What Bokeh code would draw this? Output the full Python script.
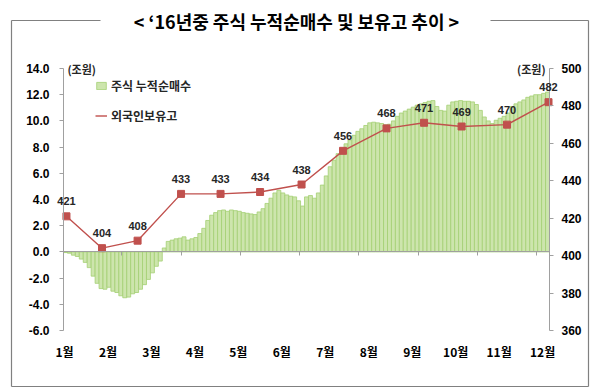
import numpy as np
from bokeh.plotting import figure
from bokeh.models import (Range1d, LinearAxis, FixedTicker, NumeralTickFormatter,
                          Label, LabelSet, ColumnDataSource)
from bokeh.core.properties import value
from bokeh.embed import file_html
from bokeh.resources import INLINE

# cumulative net purchase of stocks by foreigners (trillion won), one bar per two trading days
net_buy = [-0.05, -0.1, -0.25, -0.35, -0.55, -0.8, -1.2, -1.85, -2.4, -2.8,
           -2.85, -2.7, -3.0, -3.1, -3.35, -3.5, -3.45, -3.2, -3.1, -2.85,
           -2.5, -2.1, -1.6, -1.1, -0.7, 0.3, 0.8, 0.9, 1.0, 1.05,
           1.15, 0.9, 1.0, 1.1, 1.4, 1.8, 2.4, 2.8, 3.0, 3.15,
           3.2, 3.1, 3.2, 3.15, 3.1, 3.0, 2.95, 2.9, 2.85, 3.05,
           3.3, 3.7, 4.1, 4.5, 4.7, 4.5, 4.35, 4.25, 4.2, 3.9,
           3.5, 4.2, 4.3, 4.1, 4.5, 5.1, 5.8, 6.5, 7.0, 7.5,
           7.9, 8.25, 8.55, 8.9, 9.2, 9.4, 9.65, 9.85, 9.9, 9.85,
           9.8, 9.7, 9.75, 10.0, 10.35, 10.6, 10.75, 10.9, 11.05, 11.2,
           11.3, 11.4, 11.5, 11.55, 11.1, 10.8, 10.75, 11.2, 11.45, 11.5,
           11.55, 11.5, 11.5, 11.45, 11.25, 10.8, 10.3, 10.0, 9.8, 10.05,
           10.2, 10.35, 10.6, 11.1, 11.3, 11.45, 11.6, 11.8, 11.9, 12.0,
           12.0, 12.1, 12.2]
# trading-day position of each bar (two trading days per bar)
bar_day = list(np.arange(len(net_buy)) * 2 + 1.5)

# foreign holdings (trillion won) at month ends
holding_day = [2, 20, 38, 60, 80, 100, 121, 142, 164, 183, 202, 225, 246]
holding = [421, 404, 408, 433, 433, 434, 438, 456, 468, 471, 469, 470, 482]

month_labels = ["1월", "2월", "3월", "4월", "5월", "6월", "7월", "8월", "9월", "10월", "11월", "12월"]
month_day = [1, 23, 45, 67, 89, 111, 133, 155, 177, 199, 221, 243]
left_ticks = [-6, -4, -2, 0, 2, 4, 6, 8, 10, 12, 14]
right_ticks = [360, 380, 400, 420, 440, 460, 480, 500]
cat_ticks = [30, 60, 90, 120, 150, 180, 210, 240]

title_text = "< ‘16년중 주식 누적순매수 및 보유고 추이 >"

# ---- layout (pixels on the 600x390 canvas) ----
W, H = 600, 390
PX_L, PX_R, PX_T, PX_B = 63, 549, 68, 330      # plotting area of the chart
D0, D1 = 0.5, 246.5                           # trading-day extent
L0, L1 = -6, 14                               # left axis extent
R0, R1 = 360, 500                             # right axis extent

sx = (PX_R - PX_L) / (D1 - D0)
syl = (PX_B - PX_T) / (L1 - L0)
syr = (PX_B - PX_T) / (R1 - R0)
x_range = Range1d(D0 - PX_L / sx, D1 + (W - PX_R) / sx)
y_range = Range1d(L0 - (H - PX_B) / syl, L1 + PX_T / syl)
r_range = Range1d(R0 - (H - PX_B) / syr, R1 + PX_T / syr)


def cx(px):  # canvas x pixel -> data x
    return x_range.start + px / sx


def cy(py):  # canvas y pixel (from top) -> data y (left axis)
    return y_range.end - py / syl


BAR_FILL = "#cde5ad"
BAR_LINE = "#a3cf72"
RED = "#c0504d"
AXIS = "#a0a0a0"
BOX = "#808080"
NUM_FONT = "Liberation Sans"
KR_FONT = "Noto Sans CJK KR"

p = figure(width=W, height=H, output_backend="svg", toolbar_location=None,
           x_range=x_range, y_range=y_range,
           min_border=0, min_border_left=0, min_border_right=0,
           min_border_top=0, min_border_bottom=0,
           background_fill_color="white", border_fill_color="white")
p.outline_line_color = None
p.grid.visible = False
p.extra_y_ranges = {"right": r_range}


def style_axis(ax, font, size="12px"):
    ax.axis_line_color = AXIS
    ax.major_tick_line_color = AXIS
    ax.minor_tick_line_color = None
    ax.major_tick_out = 4
    ax.major_tick_in = 0
    ax.major_label_text_font = font
    ax.major_label_text_font_style = "bold"
    ax.major_label_text_font_size = size
    ax.major_label_text_color = "#000000"


# month labels
xa = p.xaxis[0]
style_axis(xa, KR_FONT)
xa.fixed_location = L0
xa.ticker = FixedTicker(ticks=month_day)
xa.major_label_overrides = {d: m for d, m in zip(month_day, month_labels)}
xa.axis_line_color = None
xa.major_tick_line_color = None
xa.major_label_standoff = 8

# category axis crossing at zero
ca = LinearAxis(fixed_location=0, bounds=(D0, D1), ticker=FixedTicker(ticks=cat_ticks))
style_axis(ca, NUM_FONT)
ca.major_label_text_color = None

ya = p.yaxis[0]
style_axis(ya, NUM_FONT)
ya.fixed_location = D0
ya.bounds = (L0, L1)
ya.ticker = FixedTicker(ticks=left_ticks)
ya.formatter = NumeralTickFormatter(format="0.0")
ya.major_label_standoff = 10

ra = LinearAxis(y_range_name="right", fixed_location=D1, bounds=(R0, R1),
                ticker=FixedTicker(ticks=right_ticks))
style_axis(ra, NUM_FONT)
ra.major_label_standoff = 8
p.add_layout(ra, "right")

# outer frame with the title set into its top edge
frame_x0 = [cx(11), cx(490), cx(11), cx(588), cx(11)]
frame_x1 = [cx(100), cx(588), cx(11), cx(588), cx(588)]
frame_y0 = [cy(20), cy(20), cy(20), cy(20), cy(386)]
frame_y1 = [cy(20), cy(20), cy(386), cy(386), cy(386)]
p.segment(x0=frame_x0, y0=frame_y0, x1=frame_x1, y1=frame_y1, line_color=BOX, line_width=1.2)

bars = p.vbar(x=bar_day, top=net_buy, bottom=0, width=2,
              fill_color=BAR_FILL, line_color=BAR_LINE, line_width=0.8,
              legend_label="주식 누적순매수")
p.add_layout(ca, "below")

ln = p.line(x=holding_day, y=holding, y_range_name="right", line_color=RED, line_width=1.4,
            legend_label="외국인보유고")
p.scatter(x=holding_day, y=holding, y_range_name="right", marker="square", size=7,
          fill_color=RED, line_color=RED)

src = ColumnDataSource(dict(x=holding_day, y=holding, t=[str(v) for v in holding]))
p.add_layout(LabelSet(x="x", y="y", text="t", source=src, y_range_name="right",
                      y_offset=15, text_align="center", text_baseline="middle",
                      text_font=value(NUM_FONT), text_font_style="bold", text_font_size="11px",
                      text_color="#262626"))

p.add_layout(Label(x=2.5, y=L1, text="(조원)", text_align="left", text_baseline="middle",
                   text_font=KR_FONT, text_font_style="bold", text_font_size="11px",
                   text_color="#262626"))
p.add_layout(Label(x=244.5, y=L1, text="(조원)", text_align="right", text_baseline="middle",
                   text_font=KR_FONT, text_font_style="bold", text_font_size="11px",
                   text_color="#262626"))

leg = p.legend[0]
leg.location = (95, 266)
leg.margin = 0
leg.padding = 2
leg.spacing = 13
leg.glyph_width = 12
leg.glyph_height = 9
leg.label_height = 9
leg.label_standoff = 4
leg.border_line_color = None
leg.background_fill_alpha = 0
leg.label_text_font = KR_FONT
leg.label_text_font_style = "bold"
leg.label_text_font_size = "12px"
leg.label_text_color = "#262626"

p.add_layout(Label(x=296, y=H - 20, x_units="screen", y_units="screen", text=title_text,
                   text_align="center", text_baseline="middle",
                   text_font=KR_FONT, text_font_style="bold", text_font_size="18px",
                   text_color="#000000"))

open("out.html", "w").write(file_html(p, INLINE))
